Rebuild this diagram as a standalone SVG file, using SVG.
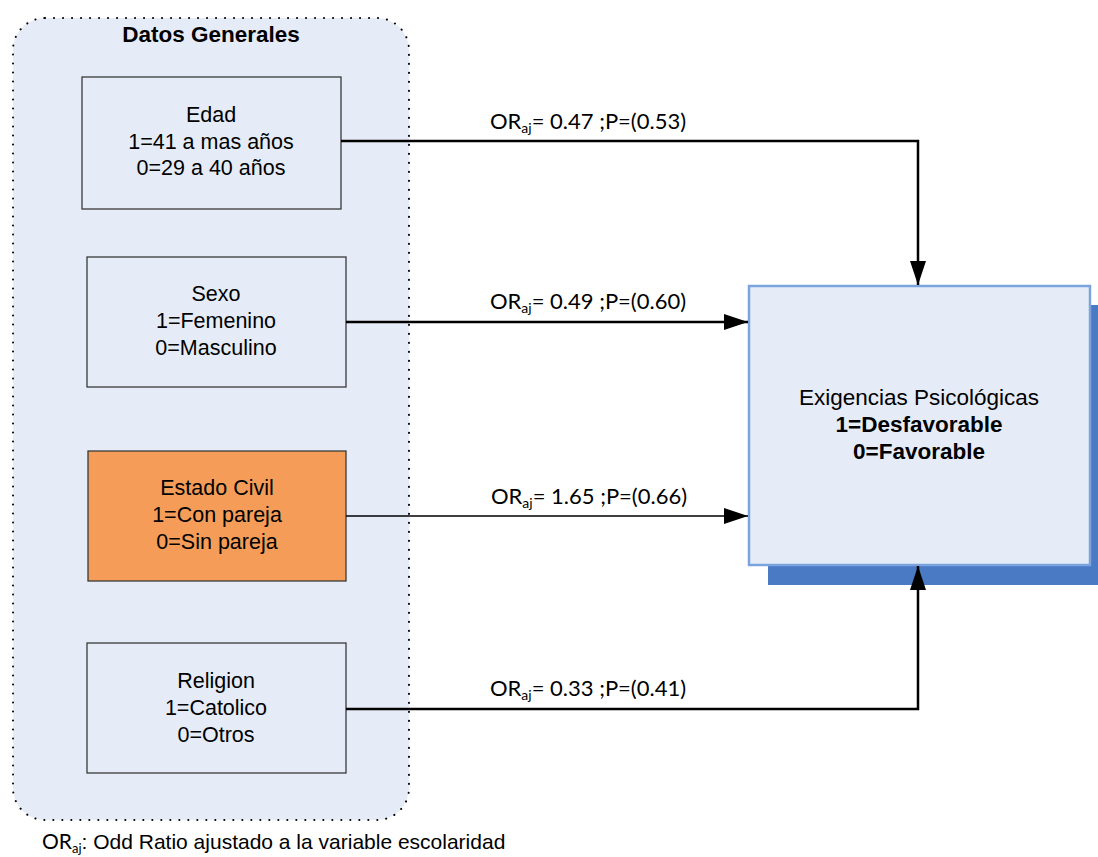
<svg xmlns="http://www.w3.org/2000/svg" width="1098" height="857" viewBox="0 0 1098 857">
<defs>
<style>
.t{font-family:"Liberation Sans",Arial,sans-serif;font-size:21.5px;fill:#000;text-anchor:middle}
.big{font-size:22.5px}
.b{font-weight:bold}
.lab{font-family:Lato,"Open Sans","Liberation Sans",sans-serif;font-size:22px;fill:#000;text-anchor:middle}
.node{fill:#E6ECF7;stroke:#3a3a3a;stroke-width:1.3}
.con{fill:none;stroke:#000;stroke-width:2.5}
</style>
<marker id="ah" viewBox="0 0 24 16" refX="24" refY="8" markerWidth="24" markerHeight="16" markerUnits="userSpaceOnUse" orient="auto">
<path d="M0,0 L24,8 L0,16 Z" fill="#000"/>
</marker>
</defs>
<rect width="1098" height="857" fill="#fff"/>
<g id="datos-generales">
<rect x="13" y="18" width="396" height="802" rx="32" ry="32" fill="#E6ECF7" stroke="#000" stroke-width="2" stroke-dasharray="0.1 8.9" stroke-linecap="round"/>
<text class="t big b" x="211" y="42">Datos Generales</text>
</g>
<g id="edad">
<rect class="node" x="82" y="77" width="259" height="132"/>
<text class="t" x="211" y="122">Edad</text>
<text class="t" x="211" y="149">1=41 a mas años</text>
<text class="t" x="211" y="175">0=29 a 40 años</text>
</g>
<g id="sexo">
<rect class="node" x="87" y="257" width="259" height="130"/>
<text class="t" x="216" y="301">Sexo</text>
<text class="t" x="216" y="328">1=Femenino</text>
<text class="t" x="216" y="355">0=Masculino</text>
</g>
<g id="estado-civil">
<rect class="node" x="88" y="451" width="258" height="130" style="fill:#F59D58"/>
<text class="t" x="217" y="495">Estado Civil</text>
<text class="t" x="217" y="522">1=Con pareja</text>
<text class="t" x="217" y="549">0=Sin pareja</text>
</g>
<g id="religion">
<rect class="node" x="87" y="643" width="259" height="130"/>
<text class="t" x="216" y="688">Religion</text>
<text class="t" x="216" y="715">1=Catolico</text>
<text class="t" x="216" y="742">0=Otros</text>
</g>
<g id="exigencias">
<rect x="768" y="305" width="330" height="280" fill="#4A7AC3"/>
<rect x="749" y="286" width="341" height="279" fill="#E6ECF7" stroke="#7BA3DD" stroke-width="2.5"/>
<text class="t big" x="919" y="405">Exigencias Psicológicas</text>
<text class="t big b" x="919" y="432">1=Desfavorable</text>
<text class="t big b" x="919" y="459">0=Favorable</text>
</g>
<g id="connectors">
<path class="con" d="M341,141 H918 V285" marker-end="url(#ah)"/>
<path class="con" d="M346,322 H748" marker-end="url(#ah)"/>
<path class="con" d="M346,516 H748" style="stroke-width:1.6" marker-end="url(#ah)"/>
<path class="con" d="M346,709 H918 V566" marker-end="url(#ah)"/>
<text class="lab" x="588" y="129">OR<tspan font-size="14" dy="4">aj</tspan><tspan dy="-4">= 0.47 ;P=(0.53)</tspan></text>
<text class="lab" x="588" y="309">OR<tspan font-size="14" dy="4">aj</tspan><tspan dy="-4">= 0.49 ;P=(0.60)</tspan></text>
<text class="lab" x="589" y="504">OR<tspan font-size="14" dy="4">aj</tspan><tspan dy="-4">= 1.65 ;P=(0.66)</tspan></text>
<text class="lab" x="588" y="696">OR<tspan font-size="14" dy="4">aj</tspan><tspan dy="-4">= 0.33 ;P=(0.41)</tspan></text>
</g>
<g id="nota">
<text x="42" y="849" style="font-family:'Liberation Sans',Arial,sans-serif;font-size:21px"><tspan style="font-family:Lato,'Liberation Sans',sans-serif">OR</tspan><tspan font-size="13" dy="4" style="font-family:Lato,'Liberation Sans',sans-serif">aj</tspan><tspan dy="-4">: Odd Ratio ajustado a la variable escolaridad</tspan></text>
</g>
</svg>
